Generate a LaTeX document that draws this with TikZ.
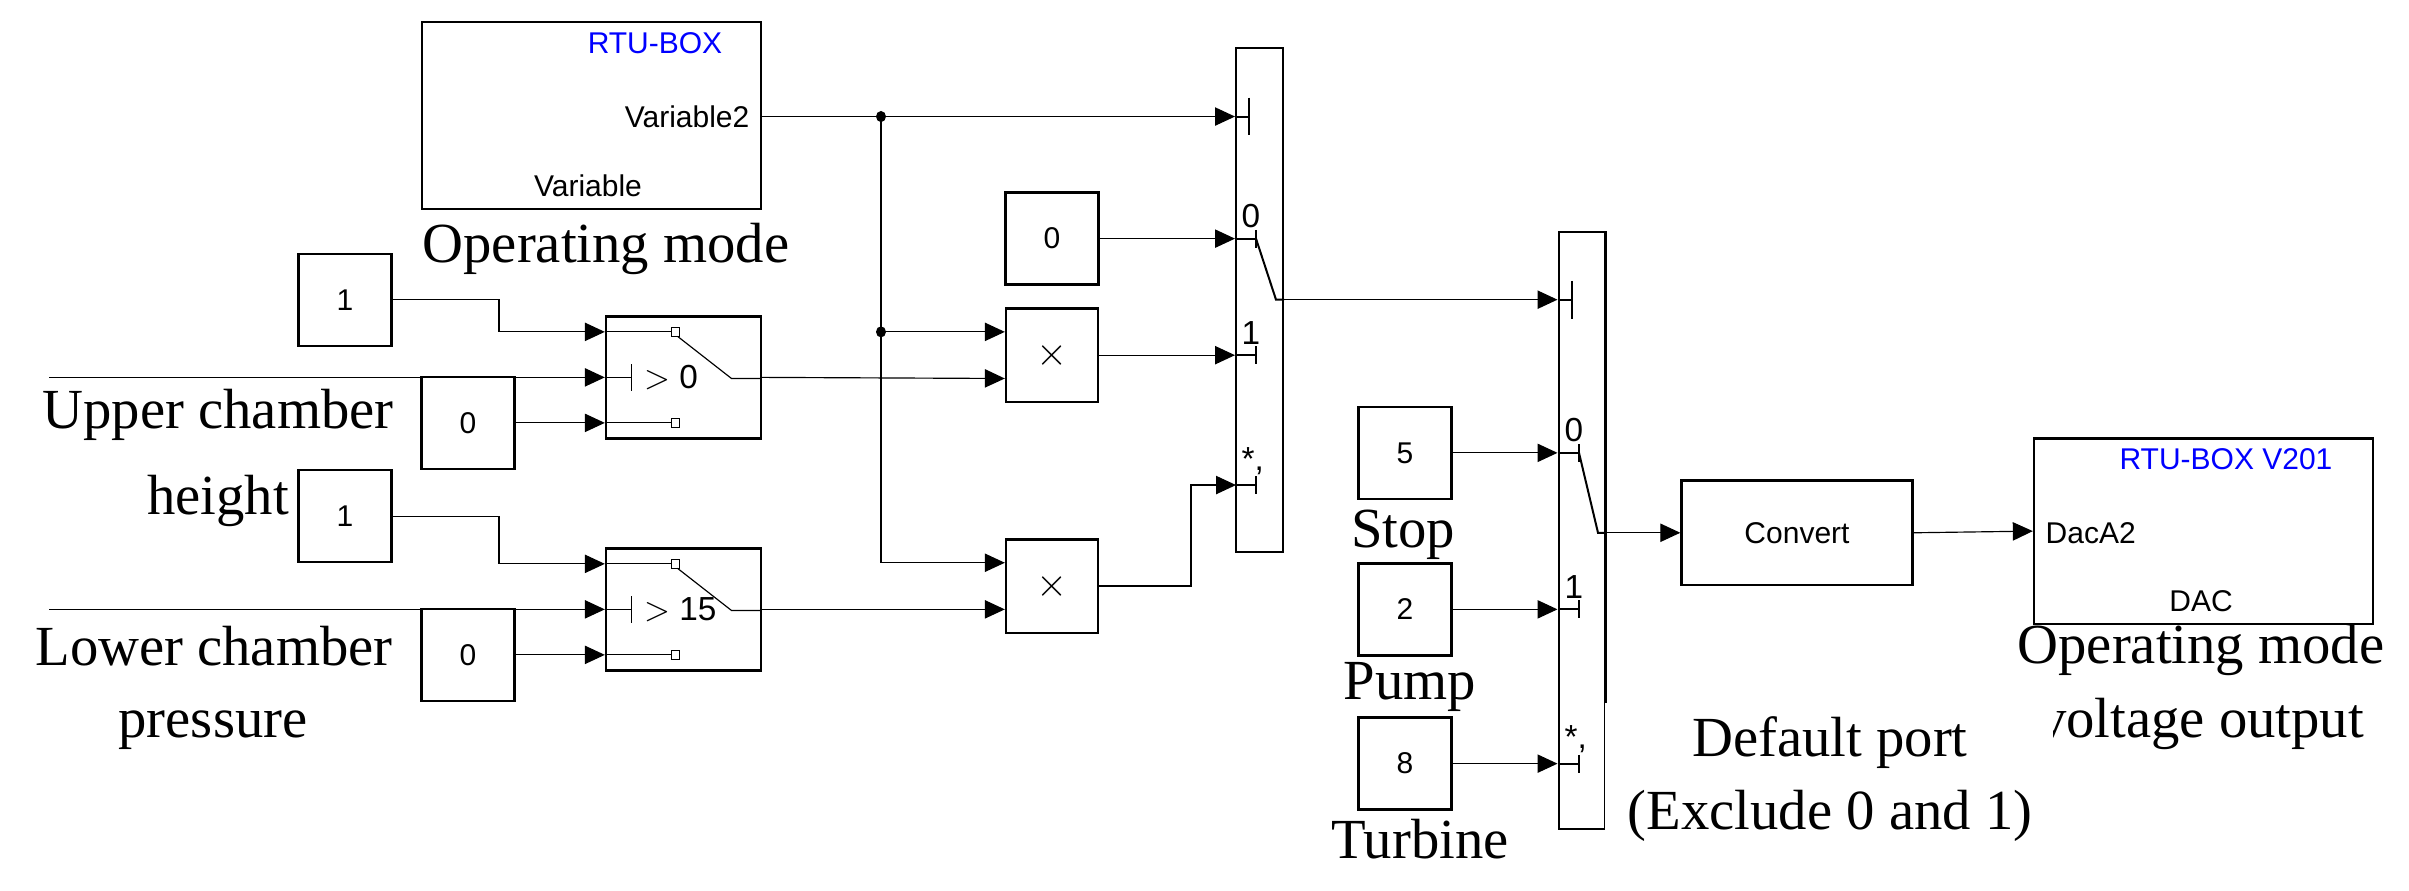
\documentclass[tikz,border=0pt]{standalone}
\usepackage{fontspec}
\setmainfont{Liberation Serif}
\newfontfamily\blkfont{Liberation Sans}
\usetikzlibrary{arrows.meta, positioning, calc}
\tikzset{
    blk/.style={rectangle, draw, line width=0.7pt, inner sep=0pt, font=\blkfont\fontsize{9}{10}\selectfont, align=center},
    cst/.style={blk, minimum width=27.9pt, minimum height=27.6pt},
    mul/.style={blk, minimum width=27.6pt, minimum height=28pt, font=\blkfont\fontsize{13}{13}\selectfont},
    swt/.style={blk, minimum width=46.5pt, minimum height=36.6pt},
    mux/.style={blk, minimum width=14pt},
    sig/.style={line width=0.35pt, -{Triangle[length=6pt, width=5.5pt]}},
    wire/.style={line width=0.35pt},
    lbl/.style={font=\fontsize{17}{22}\selectfont, align=center, inner sep=0pt},
    prt/.style={font=\blkfont\fontsize{10}{11}\selectfont, inner sep=0pt}
}

\begin{document}
\begin{tikzpicture}[x=0.3pt, y=-0.333pt]
    \useasboundingbox (0,0) rectangle (2409,802);
    % RTU input block
    \node[blk, minimum width=101.7pt, minimum height=56pt] (rtu) at (591.5,104) {};
    \node[prt, font=\blkfont\fontsize{9}{10}\selectfont, text=blue] at (655,39) {RTU-BOX};
    \node[prt, font=\blkfont\fontsize{9}{10}\selectfont, anchor=east] at (750,105) {Variable2};
    \node[prt, font=\blkfont\fontsize{9}{10}\selectfont] at (588,167) {Variable};
    \node[lbl] at (606,224) {Operating mode};

    % constants and switches
    \node[cst] (c1a) at (345,270) {1};
    \node[cst] (c0a) at (468,381) {0};
    \node[cst] (c1b) at (345,465) {1};
    \node[cst] (c0b) at (468,590) {0};
    \node[swt] (sw1) at (683.5,340) {};
    \node[swt] (sw2) at (683.5,549) {};
    \foreach \s/\t in {sw1/0, sw2/15} {
        \begin{scope}[shift={(\s.center)}]
            \draw[wire] (-77,-41) -- (-12,-41);
            \draw[wire] (-12,-45) rectangle (-4,-37);
            \draw[wire] (-6,-37) -- (48,1) -- (77,1);
            \draw[wire] (-77,41) -- (-12,41);
            \draw[wire] (-12,37) rectangle (-4,45);
            \draw[wire] (-77,0) -- (-52,0) (-52,-12) -- (-52,12);
            \node[prt, font=\blkfont\fontsize{10}{11}\selectfont, anchor=west] at (-40,0) {$>$ \t};
        \end{scope}
    }
    \coordinate (up) at (49,340);
    \coordinate (lo) at (49,549);
    \node[lbl] at (218,374) {Upper chamber};
    \node[lbl] at (218,451) {height};
    \node[lbl] at (214,582) {Lower chamber};
    \node[lbl] at (213,658) {pressure};

    \draw[sig] (c1a.east) -- (499,270) |- ($(sw1.west)+(0,-41)$);
    \draw[sig] (up) -- (sw1.west);
    \draw[sig] (c0a.east) -- ($(sw1.west)+(0,41)$);
    \draw[sig] (c1b.east) -- (499,465) |- ($(sw2.west)+(0,-41)$);
    \draw[sig] (lo) -- (sw2.west);
    \draw[sig] (c0b.east) -- ($(sw2.west)+(0,41)$);

    % products
    \node[cst] (k0) at (1052,215) {0};
    \node[mul] (m1) at (1052,320) {$\times$};
    \node[mul] (m2) at (1052,528) {$\times$};
    \coordinate (j1) at (881,105);
    \coordinate (j2) at (881,299);
    \fill (j1) circle (5);
    \fill (j2) circle (5);
    \draw[sig] (sw1.east) -- ($(m1.west)+(0,21)$);
    \draw[sig] (sw2.east) -- ($(m2.west)+(0,21)$);
    \draw[sig] (j2) -- ($(m1.west)+(0,-21)$);
    \draw[sig] (j1) |- ($(m2.west)+(0,-21)$);

    % first multiport switch
    \node[mux, minimum height=151.2pt] (mx1) at (1259.5,270) {};
    \draw[sig] (rtu.east |- j1) -- (mx1.west |- j1);
    \draw[sig] (k0.east) -- (mx1.west |- k0);
    \draw[sig] (m1.east) -- (mx1.west |- m1);
    \draw[sig] (m2.east) -- (1191,528) |- (1236,437);
    \draw[wire, line width=0.6pt] (1236,105) -- (1249,105) (1249,88) -- (1249,122);
    \foreach \y/\p in {215/0, 320/1, 437/{*,}} {
        \draw[wire, line width=0.6pt] (1236,\y) -- (1256,\y) (1256,\y-8) -- (1256,\y+8);
        \node[prt, anchor=south west] at (1241,\y-9) {\p};
    }
    \draw[wire, line width=0.6pt] (1256,215) -- (1276,270) -- (mx1.east |- 0,270);

    % second multiport switch
    \node[mux, minimum height=179.2pt] (mx2) at (1582,478) {};
    \draw[sig] (mx1.east |- 0,270) -- (mx2.west |- 0,270);
    \node[cst] (k5) at (1405,408) {5};
    \node[cst] (k2) at (1405,549) {2};
    \node[cst] (k8) at (1405,688) {8};
    \draw[sig] (k5.east) -- (mx2.west |- k5);
    \draw[sig] (k2.east) -- (mx2.west |- k2);
    \draw[sig] (k8.east) -- (mx2.west |- k8);
    \draw[wire, line width=0.6pt] (1559,270) -- (1572,270) (1572,253) -- (1572,287);
    \foreach \y/\p in {408/0, 549/1, 688/{*,}} {
        \draw[wire, line width=0.6pt] (1559,\y) -- (1579,\y) (1579,\y-8) -- (1579,\y+8);
        \node[prt, anchor=south west] at (1564,\y-9) {\p};
    }
    \draw[wire, line width=0.6pt] (1579,408) -- (1598,480) -- (mx2.east |- 0,480);
    \node[lbl] at (1403,482) {Stop};
    \node[lbl] at (1410,619) {Pump};
    \node[lbl] at (1420,756) {Turbine};

    % output
    \node[blk, minimum width=69.3pt, minimum height=31.3pt] (cv) at (1797,480) {Convert};
    \node[blk, minimum width=101.7pt, minimum height=55.6pt] (rtu2) at (2203.5,478.5) {};
    \node[prt, font=\blkfont\fontsize{9}{10}\selectfont, text=blue] at (2226,414) {RTU-BOX V201};
    \node[prt, font=\blkfont\fontsize{9}{10}\selectfont, anchor=west] at (2045,480) {DacA2};
    \node[prt, font=\blkfont\fontsize{9}{10}\selectfont] at (2201,542) {DAC};
    \draw[sig] (mx2.east |- cv) -- (cv.west);
    \draw[sig] (cv.east) -- (rtu2.west);
    \node[lbl] at (2201,619) {Operating mode\\voltage output};
    \fill[white] (1605,633) rectangle (2053,802);
    \node[lbl] at (1830,702) {Default port\\(Exclude 0 and 1)};
\end{tikzpicture}
\end{document}
